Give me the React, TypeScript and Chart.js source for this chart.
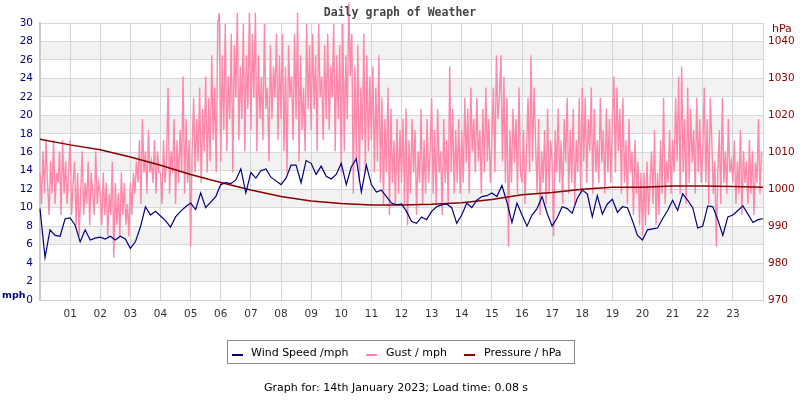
import React, { useEffect, useRef } from 'react';
import { Chart, registerables } from 'chart.js';

Chart.register(...registerables);

const hourLabels = ['01','02','03','04','05','06','07','08','09','10','11','12','13','14','15','16','17','18','19','20','21','22','23'];

// Wind speed, mph, every 10 minutes from 00:00
const windSpeed = [
  9.9,4.6,7.6,7.0,6.9,8.8,8.9,8.1,6.3,7.6,6.5,6.7,6.8,6.6,6.9,6.5,6.9,6.6,5.6,6.3,7.9,10.1,9.2,9.6,9.1,
  8.6,7.9,9.0,9.6,10.1,10.5,9.8,11.6,10.0,10.6,11.2,12.5,12.7,12.6,13.0,14.2,11.6,13.8,13.2,14.0,14.2,13.3,12.9,12.5,
  13.2,14.6,14.6,12.7,15.1,14.8,13.6,14.5,13.4,13.1,13.6,14.8,12.5,14.4,15.3,11.7,14.6,12.5,11.7,11.9,11.2,10.5,10.3,10.4,
  9.6,8.5,8.3,9.0,8.7,9.6,10.1,10.3,10.4,10.0,8.3,9.2,10.5,10.0,10.8,11.2,11.3,11.6,11.2,12.4,10.6,8.4,10.5,9.2,
  8.0,9.2,9.9,11.2,9.4,8.0,8.9,10.1,9.9,9.4,11.0,11.9,11.5,9.0,11.3,9.3,10.4,10.9,9.5,10.1,10.0,8.6,7.0,
  6.5,7.6,7.7,7.8,8.8,9.7,10.8,9.7,11.5,10.8,10.0,7.8,8.0,10.2,10.1,8.7,7.0,9.0,9.2,9.7,10.2,9.3,8.4,8.7,8.8
];

// Gust, mph, every 3 minutes from 00:00 (20 readings per hour)
const gust = [
  13.8,10.4,16.1,11.5,17.3,12.7,9.2,15.0,11.5,17.3,10.4,13.8,12.7,16.1,9.2,17.3,11.5,15.0,10.4,13.8,
  17.3,9.2,12.7,15.0,8.1,13.8,6.9,11.5,16.1,9.2,12.7,10.4,15.0,8.1,13.8,11.5,9.2,16.1,10.4,12.7,
  11.5,8.1,13.8,9.2,12.7,6.9,11.5,9.2,15.0,4.6,12.7,8.1,11.5,6.9,13.8,9.2,12.7,8.1,10.4,6.9,
  12.7,9.2,13.8,11.5,15.0,12.7,17.3,10.4,19.6,13.8,16.1,11.5,18.4,13.8,15.0,12.7,17.3,11.5,16.1,13.8,
  13.8,10.4,17.3,12.7,15.0,23.0,11.5,16.1,13.8,19.6,10.4,17.3,12.7,18.4,13.8,24.2,11.5,19.6,12.7,17.3,
  5.8,16.1,21.9,13.8,19.6,15.0,23.0,12.7,20.7,16.1,24.2,13.8,21.9,15.0,26.5,17.3,23.0,13.8,29.9,31.1,
  15.0,26.5,18.4,29.9,16.1,24.2,19.6,28.8,13.8,27.6,21.9,31.1,17.3,25.3,19.6,29.9,16.1,26.5,20.7,31.1,
  18.4,28.8,21.9,31.1,16.1,26.5,19.6,24.2,17.3,29.9,20.7,23.0,15.0,27.6,19.6,25.3,21.9,28.8,17.3,26.5,
  19.6,28.8,16.1,25.3,13.8,27.6,21.9,24.2,17.3,28.8,19.6,31.1,15.0,26.5,18.4,23.0,16.1,29.9,20.7,27.6,
  18.4,28.8,20.7,26.5,16.1,29.9,21.9,24.2,17.3,27.6,19.6,28.8,18.4,25.3,21.9,29.9,16.1,26.5,19.6,27.6,
  13.8,29.9,16.1,26.5,19.6,32.2,24.2,28.8,11.5,25.3,15.0,27.6,12.7,23.0,17.3,28.8,13.8,26.5,16.1,24.2,
  17.3,25.3,13.8,23.0,15.0,26.5,12.7,21.9,10.4,19.6,13.8,23.0,9.2,20.7,12.7,17.3,10.4,19.6,11.5,18.4,
  12.7,19.6,10.4,20.7,8.1,17.3,11.5,19.6,13.8,18.4,9.2,16.1,12.7,20.7,10.4,17.3,11.5,19.6,12.7,16.1,
  21.9,11.5,18.4,10.4,20.7,13.8,16.1,9.2,19.6,12.7,17.3,10.4,25.3,13.8,20.7,11.5,18.4,12.7,19.6,11.5,
  18.4,12.7,21.9,14.9,20.7,11.5,23.0,16.1,19.6,13.8,21.9,15.0,18.4,11.5,20.7,13.8,23.0,15.0,19.6,12.7,
  17.3,23.0,13.8,26.5,19.6,21.9,26.5,15.0,24.2,12.7,21.9,5.8,18.4,12.7,20.7,14.9,19.6,11.5,23.0,13.8,
  12.7,18.4,10.4,16.1,21.9,13.8,26.5,15.0,23.0,17.3,11.5,19.6,9.2,16.1,12.7,18.4,10.4,20.7,11.5,17.3,
  15.0,6.9,18.4,13.8,20.7,12.7,17.3,10.4,19.6,14.9,21.9,11.5,18.4,12.7,20.7,10.4,17.3,13.8,21.9,11.5,
  23.0,15.0,21.9,12.7,19.6,16.1,23.0,11.5,20.7,13.8,17.3,12.7,21.9,14.9,18.4,11.5,20.7,13.8,19.6,12.7,
  19.6,24.2,13.8,23.0,16.1,20.7,11.5,21.9,12.7,17.3,10.4,19.6,13.8,16.1,9.2,17.3,11.5,15.0,8.1,13.8,
  6.9,13.8,8.1,15.0,9.2,12.7,16.1,10.4,18.4,8.1,13.8,9.2,17.3,11.5,21.9,10.4,15.0,12.7,18.4,11.5,
  17.3,13.8,21.9,15.0,24.2,11.5,25.3,13.8,19.6,10.4,23.0,12.7,20.7,14.9,18.4,11.5,21.9,13.8,19.6,12.7,
  16.1,23.0,12.7,19.6,10.4,21.9,17.3,11.5,15.0,5.8,13.8,18.4,10.4,21.9,12.7,16.1,11.5,19.6,13.8,15.0,
  12.7,17.3,10.4,15.0,11.5,18.4,9.2,16.1,12.7,15.0,10.4,17.3,11.5,16.1,9.2,14.9,12.7,19.6,11.5,16.1
];

// Pressure, hPa, hourly from 00:00 to 24:00
const pressure = [
  1013.5,1012.0,1010.7,1008.7,1006.5,1004.0,1001.8,999.8,998.0,996.8,996.1,995.7,995.7,
  995.9,996.3,997.2,998.5,999.1,1000.0,1000.5,1000.5,1000.9,1000.9,1000.7,1000.5
];

const seriesNames = ['Wind Speed /mph', 'Gust / mph', 'Pressure / hPa'];
const seriesColors = ['#000080', '#ff88aa', '#8b0000'];
const titleText = 'Daily graph of Weather';
const footerText = 'Graph for: 14th January 2023; Load time: 0.08 s';

const bandPlugin = {
  id: 'bands',
  beforeDraw(chart: any) {
    const { ctx, chartArea } = chart;
    const y = chart.scales.y;
    ctx.save();
    ctx.fillStyle = '#f2f2f2';
    for (let v = 2; v < 30; v += 4) {
      const top = y.getPixelForValue(v + 2);
      const bot = y.getPixelForValue(v);
      ctx.fillRect(chartArea.left, top, chartArea.right - chartArea.left, bot - top);
    }
    ctx.restore();
  },
};

const decoPlugin = {
  id: 'deco',
  afterDraw(chart: any) {
    const { ctx } = chart;
    ctx.save();
    ctx.textBaseline = 'middle';
    ctx.fillStyle = '#444444';
    ctx.font = "bold 11.5px 'DejaVu Sans Mono'";
    ctx.textAlign = 'center';
    ctx.fillText(titleText, 400, 13);
    ctx.font = "bold 9.5px 'DejaVu Sans'";
    ctx.fillStyle = '#000080';
    ctx.textAlign = 'left';
    ctx.fillText('mph', 2, 296);
    ctx.font = "11px 'DejaVu Sans'";
    ctx.fillStyle = '#8b0000';
    ctx.fillText('hPa', 772, 29);
    ctx.strokeStyle = '#888888';
    ctx.lineWidth = 1;
    ctx.strokeRect(227.5, 340.5, 347, 23);
    const items = [
      { lx: 232, tx: 251 },
      { lx: 366, tx: 386 },
      { lx: 464, tx: 484 },
    ];
    ctx.font = "11px 'DejaVu Sans'";
    items.forEach((it, i) => {
      ctx.fillStyle = seriesColors[i];
      ctx.fillRect(it.lx, 354, 11, 2);
      ctx.fillStyle = '#000000';
      ctx.fillText(seriesNames[i], it.tx, 353);
    });
    ctx.textAlign = 'center';
    ctx.fillStyle = '#000000';
    ctx.fillText(footerText, 396, 388);
    ctx.restore();
  },
};

export default function App() {
  const ref = useRef<HTMLCanvasElement | null>(null);
  useEffect(() => {
    if (!ref.current) return;
    const tickFont = { family: 'DejaVu Sans', size: 10.5 };
    const chart = new Chart(ref.current, {
      type: 'line',
      data: {
        datasets: [
          {
            label: seriesNames[0],
            data: windSpeed.map((v, i) => ({ x: i / 6, y: v })),
            borderColor: seriesColors[0],
            borderWidth: 1.2,
            pointRadius: 0,
            yAxisID: 'y',
            order: 0,
            clip: false as any,
          },
          {
            label: seriesNames[1],
            data: gust.map((v, i) => ({ x: i / 20, y: v })),
            borderColor: seriesColors[1],
            borderWidth: 1.4,
            pointRadius: 0,
            yAxisID: 'y',
            order: 2,
            clip: false as any,
          },
          {
            label: seriesNames[2],
            data: pressure.map((v, i) => ({ x: i, y: v })),
            borderColor: seriesColors[2],
            borderWidth: 1.5,
            pointRadius: 0,
            yAxisID: 'y2',
            order: 1,
          },
        ],
      },
      options: {
        responsive: false,
        animation: false,
        layout: { padding: { top: 23, left: 0, right: 0, bottom: 0 } },
        plugins: {
          legend: { display: false },
          title: { display: false },
          tooltip: { enabled: false },
        },
        scales: {
          x: {
            type: 'linear',
            min: 0,
            max: 24,
            ticks: {
              stepSize: 1,
              autoSkip: false,
              maxRotation: 0,
              color: '#333333',
              font: tickFont,
              padding: 8,
              callback: (v: any) => (v >= 1 && v <= 23 ? hourLabels[v - 1] : ''),
            },
            grid: { color: '#d4d4d4', drawTicks: false },
            border: { color: '#cccccc', width: 1 },
            afterFit: (s: any) => { s.height = 100; },
          },
          y: {
            position: 'left',
            min: 0,
            max: 30,
            ticks: { stepSize: 2, color: '#000080', font: tickFont, padding: 7 },
            grid: { color: '#d8d8d8', drawTicks: false },
            border: { color: '#cccccc', width: 2 },
            afterFit: (s: any) => { s.width = 40; },
          },
          y2: {
            position: 'right',
            min: 970,
            max: 1045,
            ticks: {
              stepSize: 10,
              includeBounds: false,
              color: '#8b0000',
              font: tickFont,
              padding: 5,
              callback: (v: any) => String(v),
            },
            grid: { display: false, drawTicks: false },
            border: { display: false },
            afterFit: (s: any) => { s.width = 37; },
          },
        },
      } as any,
      plugins: [bandPlugin, decoPlugin],
    });
    return () => chart.destroy();
  }, []);
  return (
    <div style={{ position: 'fixed', left: 0, top: 0, width: 800, height: 400, background: '#ffffff' }}>
      <canvas ref={ref} width={800} height={400} />
    </div>
  );
}
